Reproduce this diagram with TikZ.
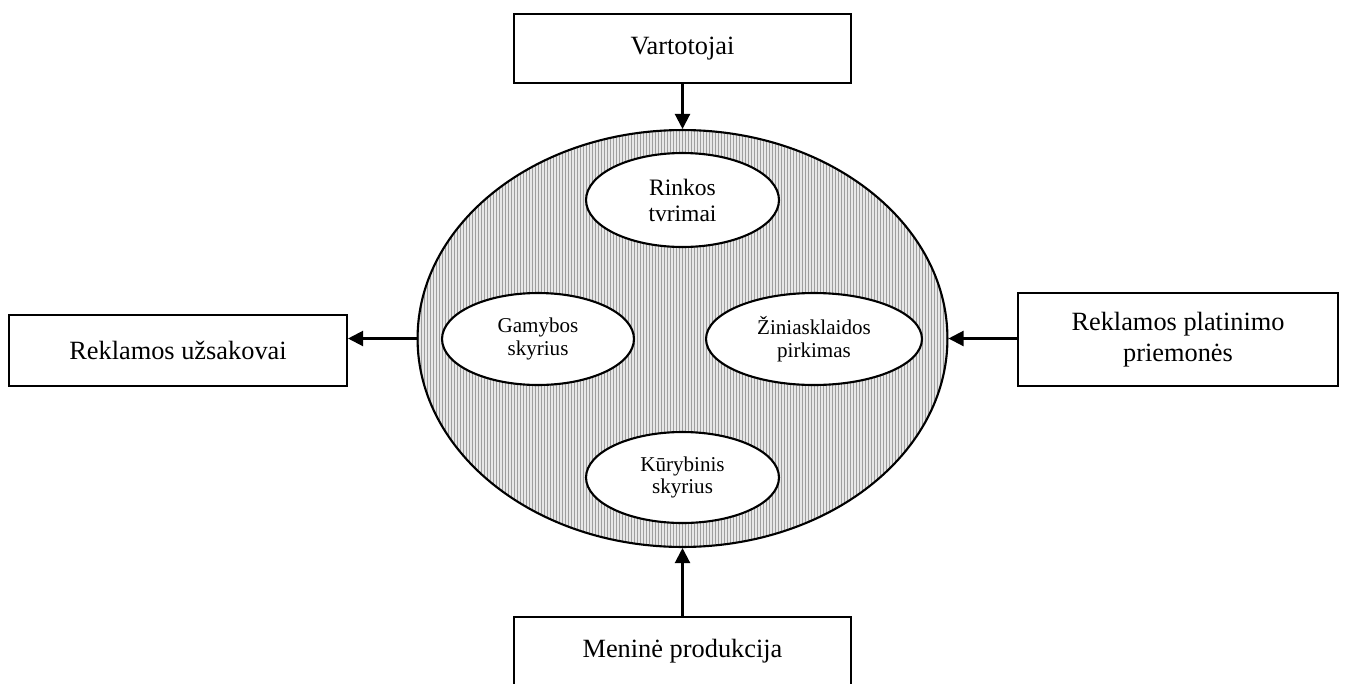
\documentclass[tikz,border=0pt]{standalone}
\usepackage{fontspec}
\setmainfont{Liberation Serif}
\usepackage{tikz}
\usetikzlibrary{shapes.geometric, arrows.meta, positioning, calc}

\begin{document}
\begin{tikzpicture}[
    x=0.02cm, y=-0.02cm,
    comp/.style={rectangle, draw=black, line width=1.2pt, fill=white, align=center, inner sep=0pt, font=\fontsize{15}{18}\selectfont},
    dept/.style={ellipse, draw=black, line width=1.2pt, fill=white, align=center, inner sep=0pt, font=\fontsize{12}{12.8}\selectfont},
    agency/.style={ellipse, draw=black, line width=1.2pt, inner sep=0pt, fill=gray!18,
        path picture={\foreach \x in {-264,-261,...,266} \draw[gray!75, line width=0.02cm] (\x,-220) -- (\x,220);}},
    arrow/.style={line width=1.2pt, -{Triangle[length=0.3cm, width=0.3cm]}}
]
    \useasboundingbox (0,0) rectangle (1345,683);

    % outer ring of the agency
    \node[agency, minimum width=10.6cm, minimum height=8.34cm] (agency) at (682.5,338.5) {};

    % departments inside
    \node[dept, minimum width=3.86cm, minimum height=1.88cm, font=\fontsize{13.4}{14.8}\selectfont] (rinkos) at (682.5,200) {Rinkos\\tvrimai};
    \node[dept, minimum width=3.84cm, minimum height=1.84cm] (gamyba) at (538,339) {Gamybos\\skyrius};
    \node[dept, minimum width=4.32cm, minimum height=1.84cm] (ziniask) at (814,339) {Žiniasklaidos\\pirkimas};
    \node[dept, minimum width=3.86cm, minimum height=1.82cm] (kuryba) at (682.5,477.5) {Kūrybinis\\skyrius};

    % partners around
    \node[comp, minimum width=6.74cm, minimum height=1.38cm] (vartot) at (682.5,48.5) {Vartotojai};
    \node[comp, minimum width=6.76cm, minimum height=1.42cm] (uzsak) at (178,350.5) {Reklamos užsakovai};
    \node[comp, minimum width=6.4cm, minimum height=1.86cm] (platin) at (1178,339.5) {Reklamos platinimo\\priemonės};
    \node[comp, minimum width=6.74cm, minimum height=1.38cm] (menine) at (682.5,651.5) {Meninė produkcija};

    \draw[arrow] (vartot) -- (agency);
    \draw[arrow] (menine) -- (agency);
    \draw[arrow] (agency.west) -- (agency.west -| uzsak.east);
    \draw[arrow] (platin.west |- agency.east) -- (agency.east);

\end{tikzpicture}
\end{document}
